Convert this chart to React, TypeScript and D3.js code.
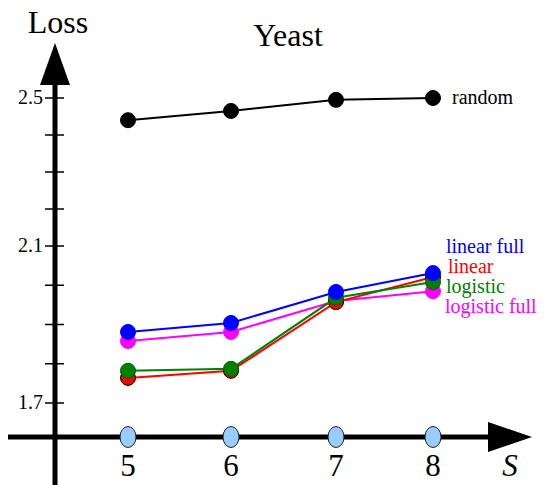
import React from "react";
import * as d3 from "d3";

const sizes = [5, 6, 7, 8];
const random = [2.44, 2.465, 2.495, 2.5];
const logisticFull = [1.858, 1.881, 1.96, 1.985];
const linear = [1.764, 1.782, 1.957, 2.021];
const logistic = [1.782, 1.787, 1.968, 2.008];
const linearFull = [1.881, 1.904, 1.983, 2.031];
const yTicks = [1.7, 1.8, 1.9, 2.0, 2.1, 2.2, 2.3, 2.4, 2.5];
const yLabels = [1.7, 2.1, 2.5];

const series = [
  { name: "random", values: random, color: "#000000", stroke: "#000" },
  { name: "logistic full", values: logisticFull, color: "#ff00ff", stroke: "#ff00ff" },
  { name: "linear", values: linear, color: "#ff0000", stroke: "#000" },
  { name: "logistic", values: logistic, color: "#008000", stroke: "#006000" },
  { name: "linear full", values: linearFull, color: "#0000ff", stroke: "#0000ff" },
];

const legend = [
  { name: "linear full", color: "#0000ff", dx: 0, y: 253 },
  { name: "linear", color: "#ff0000", dx: 2, y: 273 },
  { name: "logistic", color: "#008000", dx: 0, y: 293 },
  { name: "logistic full", color: "#ff00ff", dx: -1, y: 313 },
];

const font = "Liberation Serif, DejaVu Serif, serif";

export default function App() {
  const x = d3.scaleLinear().domain([5, 6, 7, 8]).range([128, 231, 336, 433]);
  const y = d3.scaleLinear().domain([1.7, 2.1, 2.5]).range([403, 246, 98]);
  const line = (vals: number[]) =>
    d3.line<number>().x((_, i) => x(sizes[i])).y((v) => y(v))(vals) || "";
  const axisX = 55;
  const axisY = 437;
  const ts = { fontFamily: font };

  return (
    <svg width={554} height={485} style={{ position: "absolute", left: 0, top: 0 }}>
      <rect width={554} height={485} fill="#fff" />
      <text x={288} y={46} fontSize={32} textAnchor="middle" style={ts}>Yeast</text>
      <text x={58} y={33} fontSize={32} textAnchor="middle" style={ts}>Loss</text>
      <line x1={axisX} x2={axisX} y1={80} y2={485} stroke="#000" strokeWidth={5} />
      <path d={`M${axisX},43 L${axisX + 15},85 L${axisX - 15},85 Z`} fill="#000" />
      {yTicks.map((t) => (
        <line key={t} x1={45} x2={64} y1={y(t)} y2={y(t)} stroke="#000" strokeWidth={1.5} />
      ))}
      {yLabels.map((t) => (
        <text key={t} x={43} y={y(t) + 6} fontSize={20} textAnchor="end" style={ts}>{t.toFixed(1)}</text>
      ))}
      <line x1={8} x2={495} y1={axisY} y2={axisY} stroke="#000" strokeWidth={5} />
      <path d={`M532,${axisY} L488,${axisY - 15} L488,${axisY + 15} Z`} fill="#000" />
      {sizes.map((s) => (
        <g key={s}>
          <ellipse cx={x(s)} cy={axisY} rx={8} ry={10.5} fill="#99ccff" stroke="#223" strokeWidth={1} />
          <text x={x(s)} y={476} fontSize={31} textAnchor="middle" style={ts}>{s}</text>
        </g>
      ))}
      <text x={510} y={476} fontSize={31} fontStyle="italic" textAnchor="middle" style={ts}>S</text>
      {series.map((s) => (
        <g key={s.name}>
          <path d={line(s.values)} fill="none" stroke={s.color} strokeWidth={2} />
          {s.values.map((v, i) => (
            <circle key={i} cx={x(sizes[i])} cy={y(v)} r={7.5} fill={s.color} stroke={s.stroke} strokeWidth={1} />
          ))}
        </g>
      ))}
      <text x={452} y={104} fontSize={20} style={ts}>random</text>
      {legend.map((l) => (
        <text key={l.name} x={446 + l.dx} y={l.y} fontSize={20} fill={l.color} style={ts}>{l.name}</text>
      ))}
    </svg>
  );
}
